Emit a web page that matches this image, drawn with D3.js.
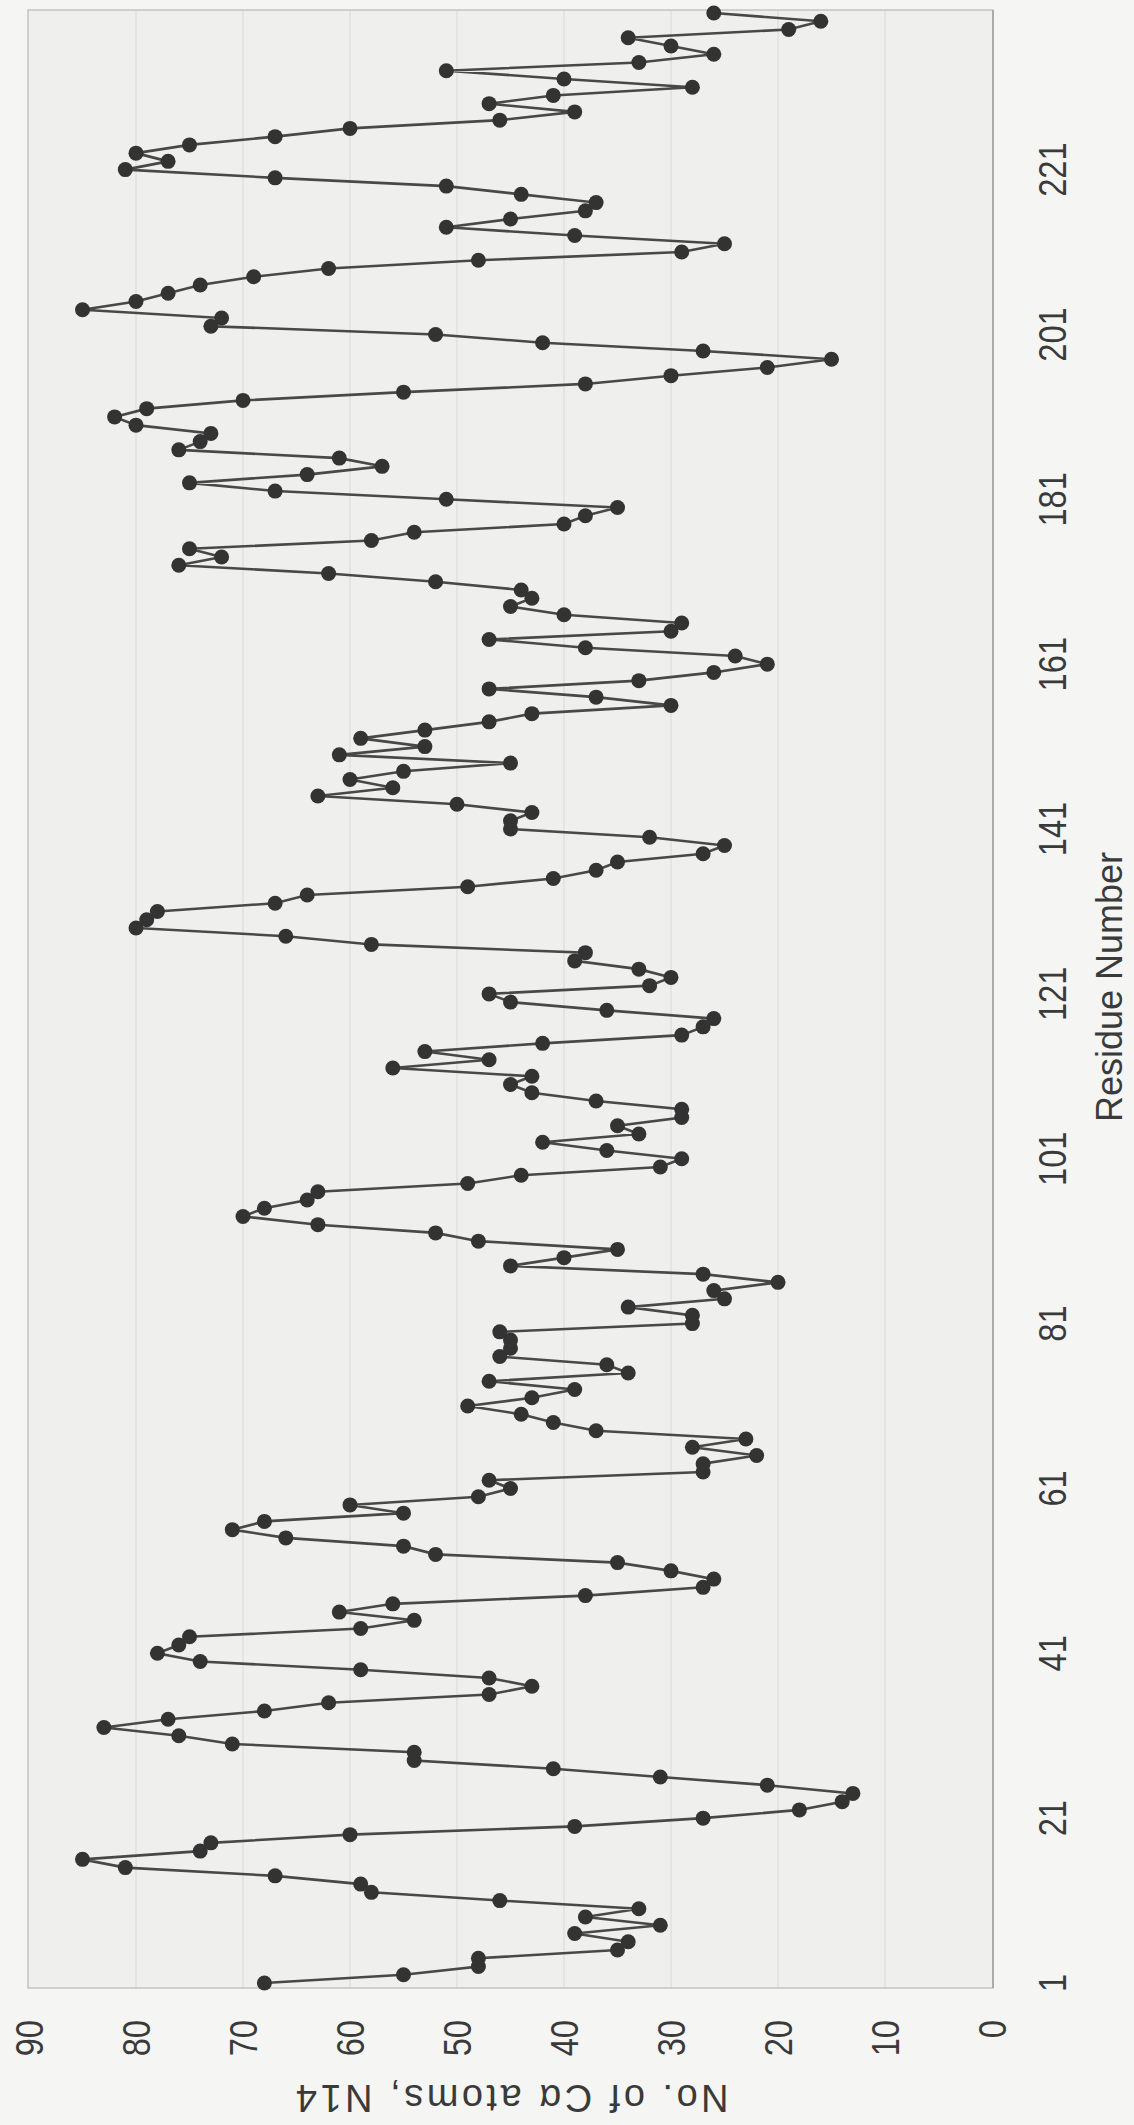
<!DOCTYPE html>
<html>
<head>
<meta charset="utf-8">
<script src="https://cdn.jsdelivr.net/npm/d3@7"></script>
<style>
  html, body { margin: 0; padding: 0; background: #f5f5f3; }
  svg { display: block; }
</style>
</head>
<body>
<div id="chart"></div>
<script>
// residue numbers 1..240 and the count of C-alpha atoms
var residues = d3.range(1, 241);
var counts = [
    68, 55, 48, 48, 35, 34, 39, 31, 38, 33, 46, 58, 59, 67, 81, 85, 74, 73, 60, 39,
    27, 18, 14, 13, 21, 31, 41, 54, 54, 71, 76, 83, 77, 68, 62, 47, 43, 47, 59, 74,
    78, 76, 75, 59, 54, 61, 56, 38, 27, 26, 30, 35, 52, 55, 66, 71, 68, 55, 60, 48,
    45, 47, 27, 27, 22, 28, 23, 37, 41, 44, 49, 43, 39, 47, 34, 36, 46, 45, 45, 46,
    28, 28, 34, 25, 26, 20, 27, 45, 40, 35, 48, 52, 63, 70, 68, 64, 63, 49, 44, 31,
    29, 36, 42, 33, 35, 29, 29, 37, 43, 45, 43, 56, 47, 53, 42, 29, 27, 26, 36, 45,
    47, 32, 30, 33, 39, 38, 58, 66, 80, 79, 78, 67, 64, 49, 41, 37, 35, 27, 25, 32,
    45, 45, 43, 50, 63, 56, 60, 55, 45, 61, 53, 59, 53, 47, 43, 30, 37, 47, 33, 26,
    21, 24, 38, 47, 30, 29, 40, 45, 43, 44, 52, 62, 76, 72, 75, 58, 54, 40, 38, 35,
    51, 67, 75, 64, 57, 61, 76, 74, 73, 80, 82, 79, 70, 55, 38, 30, 21, 15, 27, 42,
    52, 73, 72, 85, 80, 77, 74, 69, 62, 48, 29, 25, 39, 51, 45, 38, 37, 44, 51, 67,
    81, 77, 80, 75, 67, 60, 46, 39, 47, 41, 28, 40, 51, 33, 26, 30, 34, 19, 16, 26
];
var valueTicks = [0, 10, 20, 30, 40, 50, 60, 70, 80, 90];
var residueTicks = [1, 21, 41, 61, 81, 101, 121, 141, 161, 181, 201, 221];

var data = residues.map((r, i) => ({ residue: r, count: counts[i] }));

var pageW = 1134, pageH = 2125;
// the chart is drawn upright in a 2125 x 1134 frame, then turned a quarter left
var chartW = pageH;

var x = d3.scaleLinear()
    .domain([1, 240])
    .range([142, 2112]);

var y = d3.scaleLinear()
    .domain([0, 90])
    .range([992, 29]);

var svg = d3.select("#chart")
    .append("svg")
    .attr("width", pageW)
    .attr("height", pageH);

svg.append("rect")
    .attr("width", pageW)
    .attr("height", pageH)
    .attr("fill", "#f5f5f3");

var fig = svg.append("g")
    .attr("transform", "translate(0," + chartW + ") rotate(-90)");

var plotX0 = 137, plotX1 = 2115;

fig.append("rect")
    .attr("x", plotX0)
    .attr("y", y(90) - 1)
    .attr("width", plotX1 - plotX0)
    .attr("height", y(0) - y(90) + 2)
    .attr("fill", "#efefed");

fig.selectAll(".grid")
    .data(valueTicks.slice(1, -1))
    .enter().append("line")
    .attr("class", "grid")
    .attr("x1", plotX0)
    .attr("x2", plotX1)
    .attr("y1", d => y(d))
    .attr("y2", d => y(d))
    .attr("stroke", "#dcdcda")
    .attr("stroke-width", 1.2);

fig.append("rect")
    .attr("x", plotX0)
    .attr("y", y(90) - 1)
    .attr("width", plotX1 - plotX0)
    .attr("height", y(0) - y(90) + 2)
    .attr("fill", "none")
    .attr("stroke", "#c4c4c2")
    .attr("stroke-width", 1.5);

fig.append("line")
    .attr("x1", plotX0)
    .attr("x2", plotX1)
    .attr("y1", y(0) + 1)
    .attr("y2", y(0) + 1)
    .attr("stroke", "#a8a8a6")
    .attr("stroke-width", 1.8);

var line = d3.line()
    .x(d => x(d.residue))
    .y(d => y(d.count));

fig.append("path")
    .datum(data)
    .attr("d", line)
    .attr("fill", "none")
    .attr("stroke", "#484848")
    .attr("stroke-width", 2.6);

fig.selectAll(".pt")
    .data(data)
    .enter().append("circle")
    .attr("class", "pt")
    .attr("cx", d => x(d.residue))
    .attr("cy", d => y(d.count))
    .attr("r", 7.5)
    .attr("fill", "#333333");

// value tick labels
fig.selectAll(".vlab")
    .data(valueTicks)
    .enter().append("text")
    .attr("class", "vlab")
    .attr("transform", d => "translate(105," + y(d) + ") scale(0.86,1)")
    .attr("dy", "0.36em")
    .attr("text-anchor", "end")
    .style("font-family", "'Liberation Sans', Arial, sans-serif")
    .style("font-size", "38px")
    .attr("fill", "#3a3a3a")
    .text(d => d);

// residue tick labels
fig.selectAll(".rlab")
    .data(residueTicks)
    .enter().append("text")
    .attr("class", "rlab")
    .attr("transform", d => "translate(" + x(d) + ",1066) scale(0.86,1)")
    .attr("text-anchor", "middle")
    .style("font-family", "'Liberation Sans', Arial, sans-serif")
    .style("font-size", "38px")
    .attr("fill", "#3a3a3a")
    .text(d => d);

fig.append("text")
    .attr("x", 1138)
    .attr("y", 1122)
    .attr("text-anchor", "middle")
    .style("font-family", "'Liberation Sans', Arial, sans-serif")
    .style("font-size", "36px")
    .attr("fill", "#3a3a3a")
    .text("Residue Number");

fig.append("text")
    .attr("transform", "translate(40," + y(45) + ") rotate(-90)")
    .attr("text-anchor", "middle")
    .style("font-family", "'Liberation Sans', Arial, sans-serif")
    .style("font-size", "38px")
    .style("letter-spacing", "3.5px")
    .attr("fill", "#3a3a3a")
    .text("No. of C\u03b1 atoms, N14");
</script>
</body>
</html>
